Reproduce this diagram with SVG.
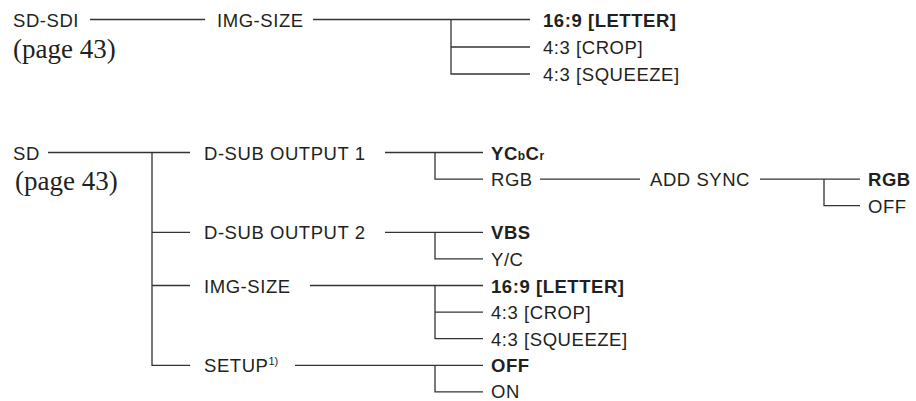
<svg xmlns="http://www.w3.org/2000/svg" width="916" height="401" viewBox="0 0 916 401">
<style>
  .t { font-family: "Liberation Sans", Arial, sans-serif; font-size: 18.5px; letter-spacing: 0.55px; fill: #231f20; }
  .b { font-weight: bold; }
  .p { font-family: "Liberation Serif", "Times New Roman", serif; font-size: 27px; fill: #231f20; }
  .sm { font-size: 12px; letter-spacing: 0.3px; }
  .sup { font-size: 11px; letter-spacing: 0px; }
  .c path { fill: none; stroke: #333; stroke-width: 1.3; }
</style>
<rect width="916" height="401" fill="#fff"/>
<g class="c" id="connectors">
  <path d="M90 19.5H205"/>
  <path d="M313 19.5H530"/>
  <path d="M451 19.5V74H530"/>
  <path d="M451 47H530"/>
  <path d="M48 152.5H190"/>
  <path d="M152 152.5V365.3H190"/>
  <path d="M152 232.3H190"/>
  <path d="M152 285.5H190"/>
  <path d="M385 152.5H483"/>
  <path d="M435 152.5V179.1H483"/>
  <path d="M540 179.1H640"/>
  <path d="M760 179.1H860"/>
  <path d="M824 179.1V205.7H860"/>
  <path d="M385 232.3H483"/>
  <path d="M435 232.3V258.9H483"/>
  <path d="M310 285.5H483"/>
  <path d="M435 285.5V338.7H483"/>
  <path d="M435 312.1H483"/>
  <path d="M295 365.3H483"/>
  <path d="M435 365.3V391.9H483"/>
</g>
<g id="sdsdi"><text class="t" x="13" y="26.6">SD-SDI</text><text class="p" x="13" y="57.5">(page 43)</text></g>
<g id="sdsdi-imgsize"><text class="t" x="217" y="26.6">IMG-SIZE</text></g>
<g id="sdsdi-letter"><text class="t b" x="543" y="26.6">16:9 [LETTER]</text></g>
<g id="sdsdi-crop"><text class="t" x="543" y="54.1">4:3 [CROP]</text></g>
<g id="sdsdi-squeeze"><text class="t" x="543" y="81.1">4:3 [SQUEEZE]</text></g>

<g id="sd"><text class="t" x="13" y="159.6">SD</text><text class="p" x="15" y="189.5">(page 43)</text></g>
<g id="dsub1"><text class="t" x="204" y="159.6">D-SUB OUTPUT 1</text></g>
<g id="ycbcr"><text class="t b" x="491" y="159.6">YC<tspan class="sm">b</tspan>C<tspan class="sm">r</tspan></text></g>
<g id="rgb"><text class="t" x="491" y="186.2">RGB</text></g>
<g id="addsync"><text class="t" x="650" y="186.2">ADD SYNC</text></g>
<g id="sync-rgb"><text class="t b" x="868" y="186.2">RGB</text></g>
<g id="sync-off"><text class="t" x="868" y="212.8">OFF</text></g>
<g id="dsub2"><text class="t" x="204" y="239.4">D-SUB OUTPUT 2</text></g>
<g id="vbs"><text class="t b" x="491" y="239.4">VBS</text></g>
<g id="yc"><text class="t" x="491" y="266">Y/C</text></g>
<g id="sd-imgsize"><text class="t" x="204" y="292.6">IMG-SIZE</text></g>
<g id="sd-letter"><text class="t b" x="491" y="292.6">16:9 [LETTER]</text></g>
<g id="sd-crop"><text class="t" x="491" y="319.2">4:3 [CROP]</text></g>
<g id="sd-squeeze"><text class="t" x="491" y="345.8">4:3 [SQUEEZE]</text></g>
<g id="setup"><text class="t" x="204" y="372.4">SETUP<tspan class="sup" dy="-7">1)</tspan></text></g>
<g id="setup-off"><text class="t b" x="491" y="372.4">OFF</text></g>
<g id="setup-on"><text class="t" x="491" y="397.5">ON</text></g>
</svg>
